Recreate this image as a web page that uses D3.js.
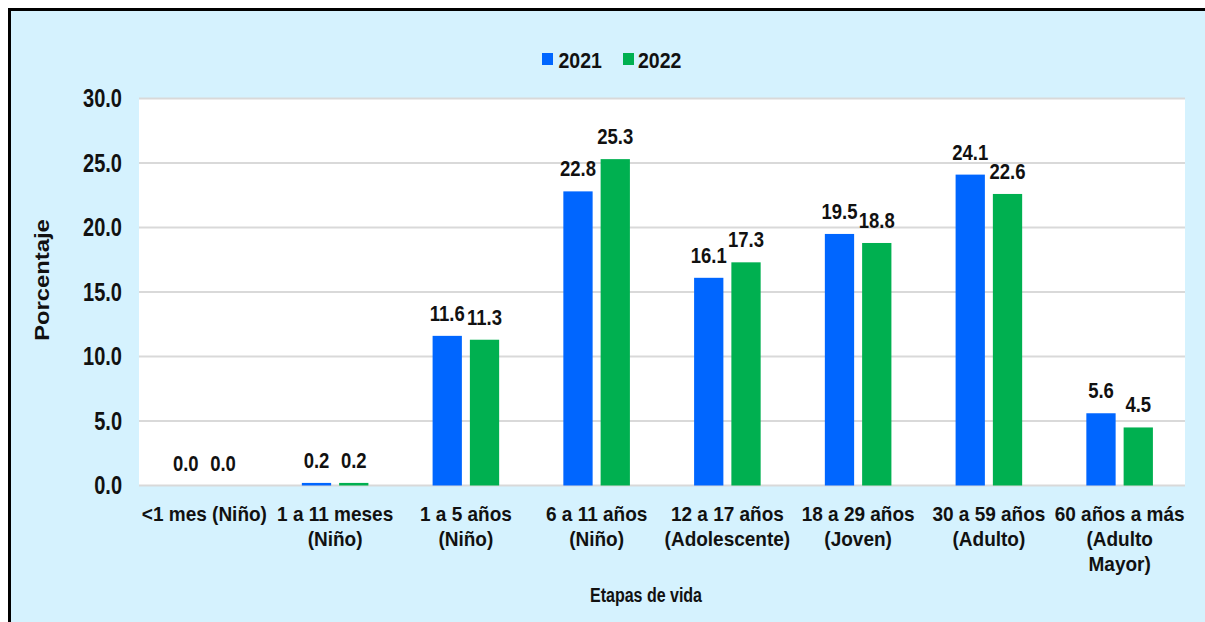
<!DOCTYPE html>
<html>
<head>
<meta charset="utf-8">
<script src="https://cdn.jsdelivr.net/npm/d3@7"></script>
<style>
  html, body { margin: 0; padding: 0; background: #ffffff; }
  svg { display: block; }
  text { font-family: "Liberation Sans", Arial, sans-serif; font-weight: bold; fill: #111111; }
</style>
</head>
<body>
<svg id="chart" width="1205" height="622"></svg>
<script>
// Age groups (each entry = lines of the axis label)
const categories = [
  ["<1 mes (Niño)"],
  ["1 a 11 meses", "(Niño)"],
  ["1 a 5 años", "(Niño)"],
  ["6 a 11 años", "(Niño)"],
  ["12 a 17 años", "(Adolescente)"],
  ["18 a 29 años", "(Joven)"],
  ["30 a 59 años", "(Adulto)"],
  ["60 años a más", "(Adulto", "Mayor)"]
];
const seriesNames = ["2021", "2022"];
const values2021 = [0.0, 0.2, 11.6, 22.8, 16.1, 19.5, 24.1, 5.6];
const values2022 = [0.0, 0.2, 11.3, 25.3, 17.3, 18.8, 22.6, 4.5];
const yTicks = [0, 5, 10, 15, 20, 25, 30];
const seriesColors = ["#0066ff", "#00b050"];

const W = 1205, H = 622;
const plot = { left: 139, right: 1185, top: 98.5, bottom: 485.5 };

const svg = d3.select("#chart");

// Chart background with frame on top/left
svg.append("rect").attr("x", 0).attr("y", 0).attr("width", W).attr("height", H).attr("fill", "#ffffff");
svg.append("rect").attr("x", 9.5).attr("y", 9.5).attr("width", W + 20).attr("height", H + 20)
  .attr("fill", "#d5f2fe").attr("stroke", "#000000").attr("stroke-width", 3);

// Plot area
svg.append("rect")
  .attr("x", plot.left).attr("y", plot.top)
  .attr("width", plot.right - plot.left).attr("height", plot.bottom - plot.top)
  .attr("fill", "#ffffff");

const idx = categories.map((d, i) => i);
const x = d3.scaleBand().domain(idx).range([plot.left, plot.right]).padding(0);
const xs = d3.scaleBand().domain(seriesNames).range([0, x.bandwidth()])
  .paddingInner(0.2145).paddingOuter(0.861);
const y = d3.scaleLinear().domain([0, 30]).range([plot.bottom, plot.top]);

// Text helper with vertical stretch
function label(g, txt, px, py, size, sy, anchor) {
  return g.append("text")
    .attr("transform", `translate(${px},${py}) scale(1,${sy})`)
    .attr("text-anchor", anchor || "middle")
    .style("font-size", size + "px")
    .text(txt);
}

// Gridlines
svg.append("g").selectAll("line").data(yTicks).join("line")
  .attr("x1", plot.left).attr("x2", plot.right)
  .attr("y1", d => y(d)).attr("y2", d => y(d))
  .attr("stroke", "#d9d9d9").attr("stroke-width", 2);

// Y tick labels
const yAxisG = svg.append("g");
yTicks.forEach(t => label(yAxisG, d3.format(".1f")(t), 122, y(t) + 8.8, 20, 1.25, "end"));

// Bars
const series = [values2021, values2022];
const barsG = svg.append("g");
series.forEach((vals, si) => {
  barsG.selectAll(null).data(vals).join("rect")
    .attr("x", (d, i) => x(i) + xs(seriesNames[si]))
    .attr("width", xs.bandwidth())
    .attr("y", d => y(d))
    .attr("height", d => y(0) - y(d))
    .attr("fill", seriesColors[si]);
});

// Value labels
const valG = svg.append("g");
series.forEach((vals, si) => {
  vals.forEach((v, i) => {
    label(valG, d3.format(".1f")(v), x(i) + xs(seriesNames[si]) + xs.bandwidth() / 2, y(v) - 15, 18.5, 1.15);
  });
});

// Category labels
const catG = svg.append("g");
const lineBase = [520.5, 546, 571];
categories.forEach((lines, i) => {
  lines.forEach((ln, k) => label(catG, ln, x(i) + x.bandwidth() / 2, lineBase[k], 19, 1.05));
});

// Axis titles
label(svg, "Etapas de vida", 646, 601.5, 16, 1.25);
svg.append("text")
  .attr("transform", "translate(49,280) rotate(-90) scale(1.19,1)")
  .attr("text-anchor", "middle")
  .style("font-size", "20px")
  .text("Porcentaje");

// Legend
const legend = [{ name: seriesNames[0], sx: 542, tx: 558.5 }, { name: seriesNames[1], sx: 623, tx: 638 }];
const legG = svg.append("g");
legend.forEach((d, i) => {
  legG.append("rect").attr("x", d.sx).attr("y", 53).attr("width", 11).attr("height", 12).attr("fill", seriesColors[i]);
  label(legG, d.name, d.tx, 67.5, 19.5, 1.12, "start");
});
</script>
</body>
</html>
